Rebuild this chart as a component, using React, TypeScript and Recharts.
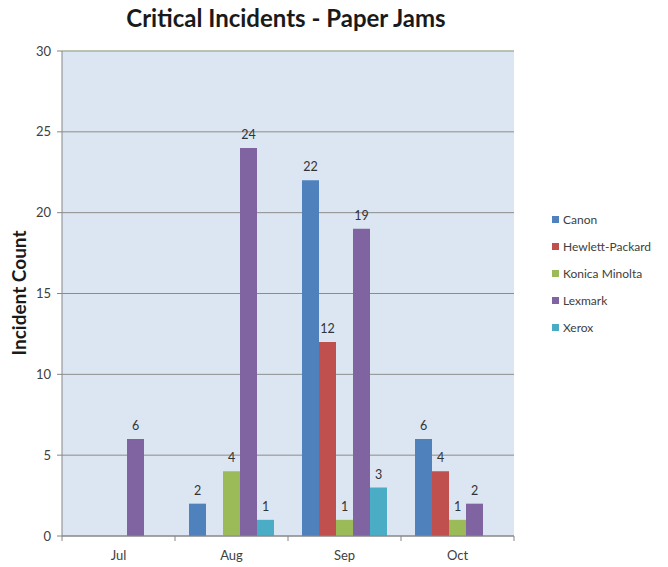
import { BarChart, Bar, XAxis, YAxis, CartesianGrid, LabelList, ReferenceLine } from "recharts";

const months = ["Jul", "Aug", "Sep", "Oct"];
const canon = [0, 2, 22, 6];
const hewlettPackard = [0, 0, 12, 4];
const konicaMinolta = [0, 4, 1, 1];
const lexmark = [6, 24, 19, 2];
const xerox = [0, 1, 3, 0];
const yTicks = [0, 5, 10, 15, 20, 25, 30];

const series = [
  { key: "Canon", values: canon, color: "#4f81bd" },
  { key: "Hewlett-Packard", values: hewlettPackard, color: "#c0504d" },
  { key: "Konica Minolta", values: konicaMinolta, color: "#9bbb59" },
  { key: "Lexmark", values: lexmark, color: "#8064a2" },
  { key: "Xerox", values: xerox, color: "#4bacc6" },
];

const data = months.map((m, i) => {
  const row: { [key: string]: any } = { month: m };
  series.forEach((s) => (row[s.key] = s.values[i]));
  return row;
});

const FONT = "Lato, 'Open Sans', sans-serif";
const HALF_BAND = 452 / months.length / 2;

function MonthTick(props: any) {
  const { x, y, payload, index } = props;
  return (
    <g>
      <line x1={x - HALF_BAND} y1={y} x2={x - HALF_BAND} y2={y + 5} stroke="#868686" />
      {index === months.length - 1 && (
        <line x1={x + HALF_BAND} y1={y} x2={x + HALF_BAND} y2={y + 5} stroke="#868686" />
      )}
      <text x={x} y={y + 24} textAnchor="middle" fontSize={13} fill="#404040" fontFamily={FONT}>
        {payload.value}
      </text>
    </g>
  );
}

export default function App() {
  return (
    <div style={{ position: "absolute", left: 0, top: 0, width: 668, height: 567, background: "#fff" }}>
      <div
        style={{
          position: "absolute",
          left: 0,
          top: 3,
          width: 572,
          textAlign: "center",
          fontFamily: FONT,
          fontWeight: "bold",
          fontSize: 24,
          color: "#1a1a1a",
        }}
      >
        Critical Incidents - Paper Jams
      </div>
      <div
        style={{
          position: "absolute",
          left: 18,
          top: 293,
          transform: "translate(-50%, -50%) rotate(-90deg)",
          whiteSpace: "nowrap",
          fontFamily: FONT,
          fontWeight: "bold",
          fontSize: 19,
          color: "#1a1a1a",
        }}
      >
        Incident Count
      </div>
      <div
        style={{
          position: "absolute",
          left: 552,
          top: 206,
          fontFamily: FONT,
          fontSize: 12,
          color: "#404040",
        }}
      >
        {series.map((s) => (
          <div key={s.key} style={{ display: "flex", alignItems: "center", height: 27 }}>
            <span style={{ width: 7, height: 7, background: s.color, marginRight: 4, display: "inline-block" }} />
            {s.key}
          </div>
        ))}
      </div>
      <BarChart
        width={668}
        height={567}
        data={data}
        margin={{ top: 51, right: 154, left: 22, bottom: 1 }}
        barSize={17}
        barGap={0}
        style={{ position: "absolute", left: 0, top: 0 }}
      >
        <CartesianGrid vertical={false} stroke="#8c8c8c" fill="#dce6f2" fillOpacity={1} />
        <XAxis
          dataKey="month"
          height={30}
          tickSize={0}
          tickMargin={0}
          tickLine={false}
          axisLine={{ stroke: "#868686" }}
          tick={<MonthTick />}
          interval={0}
        />
        <YAxis
          width={40}
          domain={[0, 30]}
          ticks={yTicks}
          tickSize={5}
          tickMargin={6}
          tickLine={{ stroke: "#868686" }}
          axisLine={{ stroke: "#868686" }}
          tick={{ fontSize: 13, fill: "#404040", fontFamily: FONT }}
        />
        <YAxis
          yAxisId="border"
          orientation="right"
          width={0}
          domain={[0, 30]}
          tick={false}
          tickLine={false}
          axisLine={{ stroke: "#b8c4a4" }}
        />
        <ReferenceLine y={30} stroke="#b8c4a4" />
        {series.map((s) => (
          <Bar key={s.key} dataKey={s.key} fill={s.color} isAnimationActive={false}>
            <LabelList
              dataKey={s.key}
              position="top"
              offset={9}
              formatter={(v: any) => (v ? v : "")}
              style={{ fontSize: 12.5, fill: "#333", fontFamily: FONT }}
            />
          </Bar>
        ))}
      </BarChart>
    </div>
  );
}
